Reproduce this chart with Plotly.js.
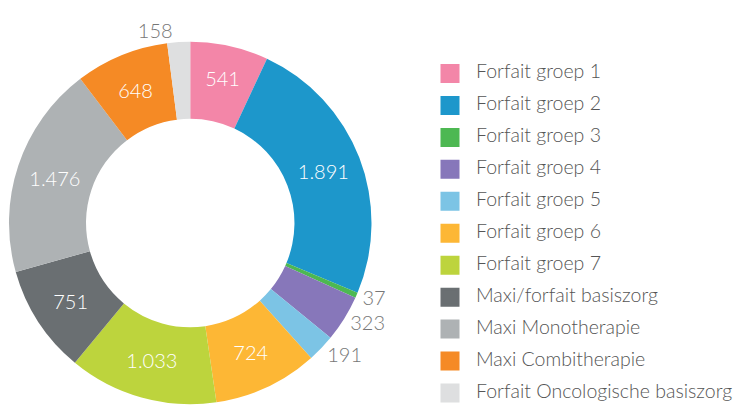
<!DOCTYPE html>
<html>
<head>
<meta charset="utf-8">
<script src="https://cdn.plot.ly/plotly-3.0.1.min.js"></script>
<style>
  html, body { margin: 0; padding: 0; background: #ffffff; }
  #chart { width: 738px; height: 408px; }
</style>
</head>
<body>
<div id="chart"></div>
<script>
const categories = [
  'Forfait groep 1',
  'Forfait groep 2',
  'Forfait groep 3',
  'Forfait groep 4',
  'Forfait groep 5',
  'Forfait groep 6',
  'Forfait groep 7',
  'Maxi/forfait basiszorg',
  'Maxi Monotherapie',
  'Maxi Combitherapie',
  'Forfait Oncologische basiszorg'
];
const values = [541, 1891, 37, 323, 191, 724, 1033, 751, 1476, 648, 158];
const colors = [
  '#F386A8', '#1D97CB', '#4DB852', '#8777BA', '#7CC4E5', '#FDB735',
  '#BDD43D', '#6A6F72', '#AEB2B4', '#F58A25', '#DEDFE0'
];
const labelPositions = ['inside', 'inside', 'outside', 'outside', 'outside', 'inside',
  'inside', 'inside', 'inside', 'inside', 'outside'];

const FONT = 'Lato, "Open Sans", sans-serif';

const pie = {
  type: 'pie',
  labels: categories,
  values: values,
  sort: false,
  direction: 'clockwise',
  rotation: 0,
  hole: 0.575,
  marker: { colors: colors, line: { width: 0 } },
  texttemplate: '%{value:,}',
  textposition: labelPositions,
  insidetextorientation: 'horizontal',
  insidetextfont: { family: FONT, size: 20, color: '#ffffff', weight: 300 },
  outsidetextfont: { family: FONT, size: 20, color: '#777777', weight: 300 },
  showlegend: false,
  hoverinfo: 'label+value',
  domain: { x: [9 / 738, 372 / 738], y: [3.5 / 408, 366.5 / 408] }
};

// legend swatches: one entry per category, using the same colours
const legendTraces = categories.map((c, i) => ({
  type: 'scatter',
  mode: 'markers',
  x: [null],
  y: [null],
  name: '<span style="font-size:19.5px">' + c + '</span>',
  legendgroup: 'g' + i,
  marker: { symbol: 'square', size: 16, color: colors[i], line: { width: 3, color: colors[i] } },
  hoverinfo: 'skip',
  showlegend: true
}));

const layout = {
  width: 738,
  height: 408,
  margin: { l: 0, r: 0, t: 0, b: 0 },
  paper_bgcolor: '#ffffff',
  plot_bgcolor: '#ffffff',
  separators: ',.',
  font: { family: FONT, color: '#555555' },
  xaxis: { visible: false, showgrid: false, zeroline: false },
  yaxis: { visible: false, showgrid: false, zeroline: false },
  showlegend: true,
  legend: {
    x: 424.5 / 738,
    xanchor: 'left',
    y: 0,
    yanchor: 'bottom',
    orientation: 'v',
    traceorder: 'grouped',
    tracegroupgap: 12.95,
    itemwidth: 42,
    font: { family: FONT, size: 12, color: '#555555', weight: 300 },
    bgcolor: 'rgba(0,0,0,0)',
    borderwidth: 0
  },
  hovermode: false
};

Plotly.newPlot('chart', [pie].concat(legendTraces), layout, { displayModeBar: false, staticPlot: true });
</script>
</body>
</html>
